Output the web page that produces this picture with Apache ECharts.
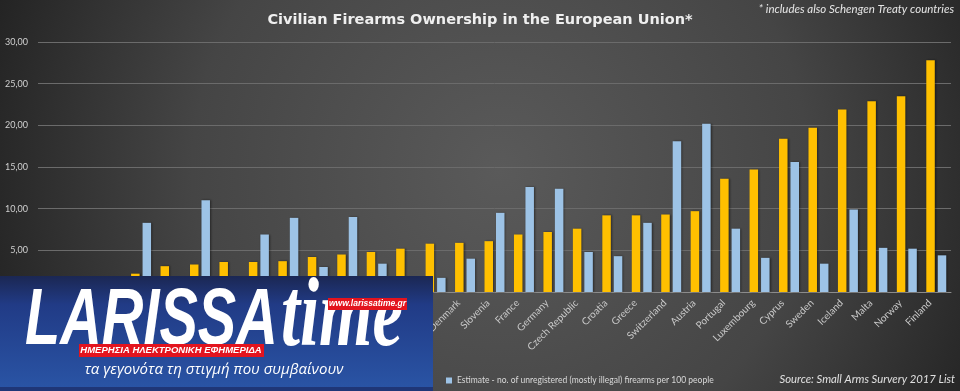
<!DOCTYPE html>
<html>
<head>
<meta charset="utf-8">
<script src="https://cdn.jsdelivr.net/npm/echarts@6/dist/echarts.min.js"></script>
<style>
html,body{margin:0;padding:0;background:#333;}
#c{width:960px;height:391px;}
</style>
</head>
<body>
<div id="c"></div>
<script>
var categories = ['Romania','Lithuania','Poland','Netherlands','Hungary','United Kingdom','Latvia','Ireland','Bulgaria','Slovakia','Estonia','Italy','Belgium','Spain','Denmark','Slovenia','France','Germany','Czech Republic','Croatia','Greece','Switzerland','Austria','Portugal','Luxembourg','Cyprus','Sweden','Iceland','Malta','Norway','Finland'];
var registered = [0.7,1.0,1.3,2.2,3.1,3.3,3.6,3.6,3.7,4.2,4.5,4.8,5.2,5.8,5.9,6.1,6.9,7.2,7.6,9.2,9.2,9.3,9.7,13.6,14.7,18.4,19.7,21.9,22.9,23.5,27.8];
var unregistered = [1.2,1.5,0.8,8.3,1.5,11.0,1.4,6.9,8.9,3.0,9.0,3.4,1.6,1.7,4.0,9.5,12.6,12.4,4.8,4.3,8.3,18.1,20.2,7.6,4.1,15.6,3.4,9.9,5.3,5.2,4.4];
var seriesNames = ['Registered firearms per 100 people','Estimate - no. of unregistered (mostly illegal) firearms per 100 people'];
var yTicks = {min:0, max:30, interval:5};

var chart = echarts.init(document.getElementById('c'), null, {renderer:'canvas'});
var fam = 'Lato, "Open Sans", sans-serif';
var Z = 100;
chart.setOption({
  backgroundColor: {type:'radial', x:500, y:170, r:560, global:true,
    colorStops:[{offset:0,color:'#5a5a5a'},{offset:0.55,color:'#454545'},{offset:1,color:'#1f1f1f'}]},
  animation:false,
  title:{text:'Civilian Firearms Ownership in the European Union*', left:'center', top:8,
    textStyle:{color:'#efefef', fontSize:14.5, fontWeight:'bold', fontFamily:'"DejaVu Sans", sans-serif'}},
  grid:{left:38, right:9, top:42, bottom:99, containLabel:false},
  legend:[
    {data:[seriesNames[0]], left:120, top:370, itemWidth:6, itemHeight:6, icon:'rect',
      textStyle:{color:'#d9d9d9', fontSize:8.5, fontFamily:fam}},
    {data:[seriesNames[1]], left:441, top:371, itemWidth:6, itemHeight:6, icon:'rect', itemGap:3,
      textStyle:{color:'#d9d9d9', fontSize:8.5, fontFamily:fam}}
  ],
  xAxis:{type:'category', data:categories,
    axisLine:{lineStyle:{color:'#8c8c8c', width:1}},
    axisTick:{show:false},
    axisLabel:{rotate:45, interval:0, color:'#c8c8c8', fontSize:10, fontFamily:fam, margin:3, padding:[0,9,0,0]}},
  yAxis:{type:'value', min:yTicks.min, max:yTicks.max, interval:yTicks.interval,
    axisLine:{show:false}, axisTick:{show:false},
    splitLine:{lineStyle:{color:'#6b6b6b', width:1}},
    axisLabel:{color:'#d0d0d0', fontSize:9, fontFamily:fam, margin:10,
      formatter:function(v){return v.toFixed(2).replace('.',',');}}},
  series:[
    {name:seriesNames[0], type:'bar', data:registered, barWidth:8.5, barGap:'35%',
      itemStyle:{color:'#FFC000', shadowColor:'rgba(0,0,0,0.45)', shadowBlur:2, shadowOffsetX:1}},
    {name:seriesNames[1], type:'bar', data:unregistered, barWidth:8.5,
      itemStyle:{color:'#9DC3E6', shadowColor:'rgba(0,0,0,0.45)', shadowBlur:2, shadowOffsetX:1}}
  ],
  graphic:[
    {type:'text', right:6, top:3, style:{text:'* includes also Schengen Treaty countries', fill:'#e6e6e6', font:'italic 11.5px Lato, sans-serif'}},
    {type:'text', right:5, top:374, style:{text:'Source: Small Arms Survery 2017 List', fill:'#e0e0e0', font:'italic 11.3px Lato, sans-serif'}},
    {type:'rect', z:Z, shape:{x:0,y:276,width:433,height:115},
      style:{fill:{type:'linear',x:0,y:0,x2:0,y2:1,colorStops:[{offset:0,color:'#1b2753'},{offset:0.25,color:'#213b86'},{offset:1,color:'#2a55a6'}]}}},
    {type:'rect', z:Z, shape:{x:0,y:387,width:433,height:4}, style:{fill:'#1f3677'}},
    {type:'text', z:Z+1, x:25, y:276+46, scaleX:0.72, style:{text:'LARISSA', fill:'#ffffff', font:'italic bold 80px "Liberation Sans", Arial, sans-serif', verticalAlign:'middle'}},
    {type:'text', z:Z+2, x:281, y:276+44, scaleX:0.7, style:{text:'time', fill:'#ffffff', font:'italic bold 98px "Liberation Serif", "DejaVu Serif", serif', verticalAlign:'middle'}},
    {type:'rect', z:Z+3, shape:{x:79,y:276+68,width:185,height:13}, style:{fill:'#e3141e'}},
    {type:'text', z:Z+4, x:171, y:276+74.5, style:{text:'ΗΜΕΡΗΣΙΑ ΗΛΕΚΤΡΟΝΙΚΗ ΕΦΗΜΕΡΙΔΑ', fill:'#ffffff', font:'italic bold 9.5px "Liberation Sans", sans-serif', align:'center', verticalAlign:'middle'}},
    {type:'rect', z:Z+3, shape:{x:328,y:276+22,width:79,height:12}, style:{fill:'#e3141e'}},
    {type:'text', z:Z+4, x:367.5, y:276+28, style:{text:'www.larissatime.gr', fill:'#ffffff', font:'italic bold 8.5px "Liberation Sans", sans-serif', align:'center', verticalAlign:'middle'}},
    {type:'text', z:Z+4, x:214, y:276+94, style:{text:'τα γεγονότα τη στιγμή που συμβαίνουν', fill:'#ffffff', font:'italic 15px "Open Sans", "DejaVu Sans", sans-serif', align:'center', verticalAlign:'middle'}}
  ]
});
</script>
</body>
</html>
